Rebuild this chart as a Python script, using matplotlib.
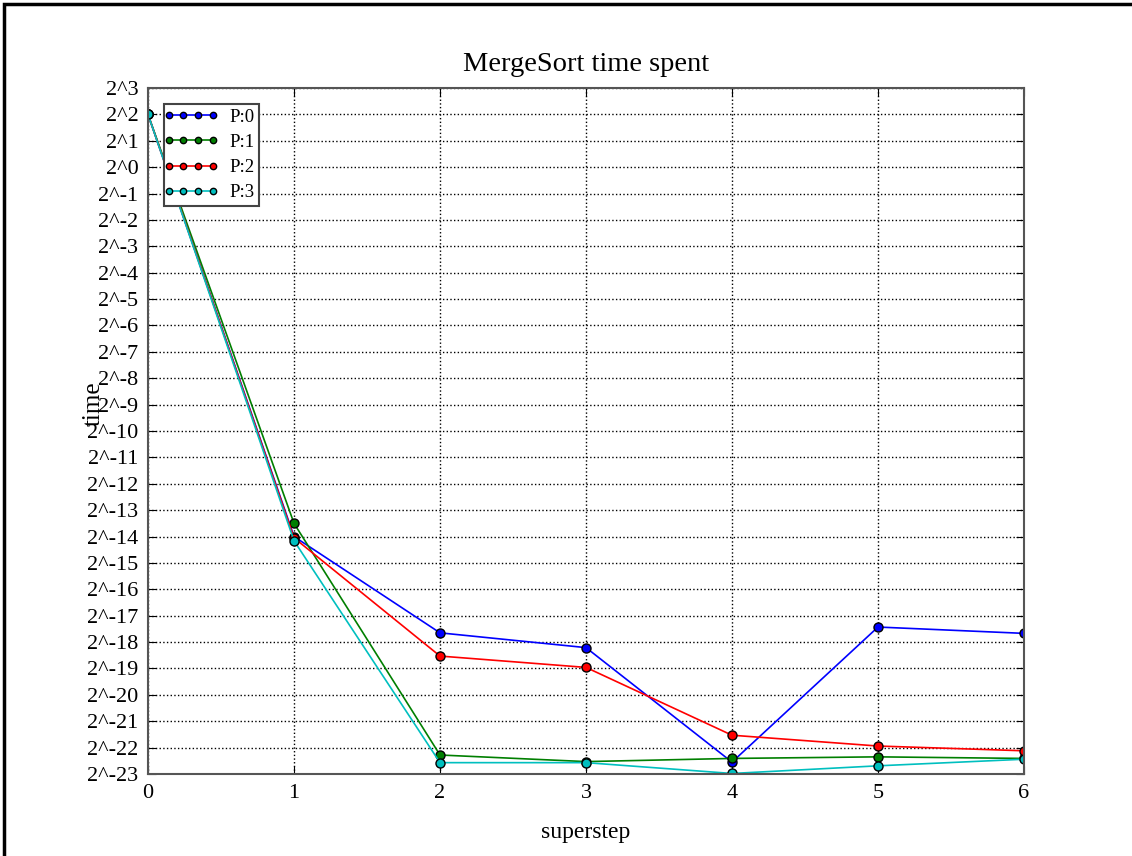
import math
import matplotlib
matplotlib.use('Agg')
import matplotlib.pyplot as plt
from matplotlib.patches import Rectangle
from matplotlib.ticker import FixedLocator, FuncFormatter
from matplotlib.legend_handler import HandlerLine2D

plt.rcParams['font.family'] = ['Liberation Serif', 'DejaVu Serif']

# superstep index and time per processor (log2 exponents)
steps = [0, 1, 2, 3, 4, 5, 6]
p0_exp = [2, -14.0, -17.65, -18.21, -22.55, -17.43, -17.67]
p1_exp = [2, -13.5, -22.28, -22.53, -22.41, -22.35, -22.41]
p2_exp = [2, -14.05, -18.53, -18.96, -21.53, -21.94, -22.12]
p3_exp = [2, -14.16, -22.57, -22.57, -22.98, -22.69, -22.44]
labels = ['P:0', 'P:1', 'P:2', 'P:3']
colors = ['#0000ff', '#007f00', '#ff0000', '#00bfbf']

fig = plt.figure(figsize=(11.32, 8.56), dpi=100)
ax = fig.add_axes([148 / 1132, 1 - 774 / 856, 876 / 1132, 686 / 856])

lines = []
for exps, lab, col in zip([p0_exp, p1_exp, p2_exp, p3_exp], labels, colors):
    ln, = ax.plot(steps, [2.0 ** e for e in exps], '-o', color=col, label=lab,
                  markersize=6.5, markeredgecolor='black', markeredgewidth=1.0, lw=1.2)
    lines.append(ln)

ax.set_yscale('log', base=2)
ax.set_ylim(2.0 ** -23, 2.0 ** 3)
ax.set_xlim(0, 6)
ax.yaxis.set_major_locator(FixedLocator([2.0 ** k for k in range(-23, 4)]))
ax.yaxis.set_minor_locator(FixedLocator([]))
ax.yaxis.set_major_formatter(FuncFormatter(lambda v, p: '2^%d' % round(math.log2(v))))
ax.set_xticks(steps)

ax.grid(True, color='black', linestyle=':', linewidth=1.0)
ax.tick_params(direction='in', length=6, labelsize=16, pad=7, top=True, right=True)
for sp in ax.spines.values():
    sp.set_color('#555555')
    sp.set_linewidth(1.5)

ax.set_title('MergeSort time spent', fontsize=20.5, pad=12)
ax.set_xlabel('superstep', fontsize=17, labelpad=14)
ax.set_ylabel('time', fontsize=18)
ax.yaxis.label.set_va('center')
ax.yaxis.set_label_coords(-0.062, 0.54)

leg = ax.legend(handles=lines, loc='upper left', fontsize=13.5, markerscale=0.7,
                numpoints=4, handlelength=2.35, fancybox=False, framealpha=1,
                borderaxespad=0.85, borderpad=0.25, labelspacing=0.43,
                handletextpad=0.9,
                handler_map={ln: HandlerLine2D(marker_pad=0, numpoints=4) for ln in lines})
leg.get_frame().set_edgecolor('#444444')
leg.get_frame().set_linewidth(1.5)

fig.patches.append(Rectangle((4 / 1132, -0.1), 1.2, 1 - 4 / 856 + 0.1,
                             transform=fig.transFigure, fill=False,
                             edgecolor='black', linewidth=2.5))

fig.savefig('out.png', dpi=100)
